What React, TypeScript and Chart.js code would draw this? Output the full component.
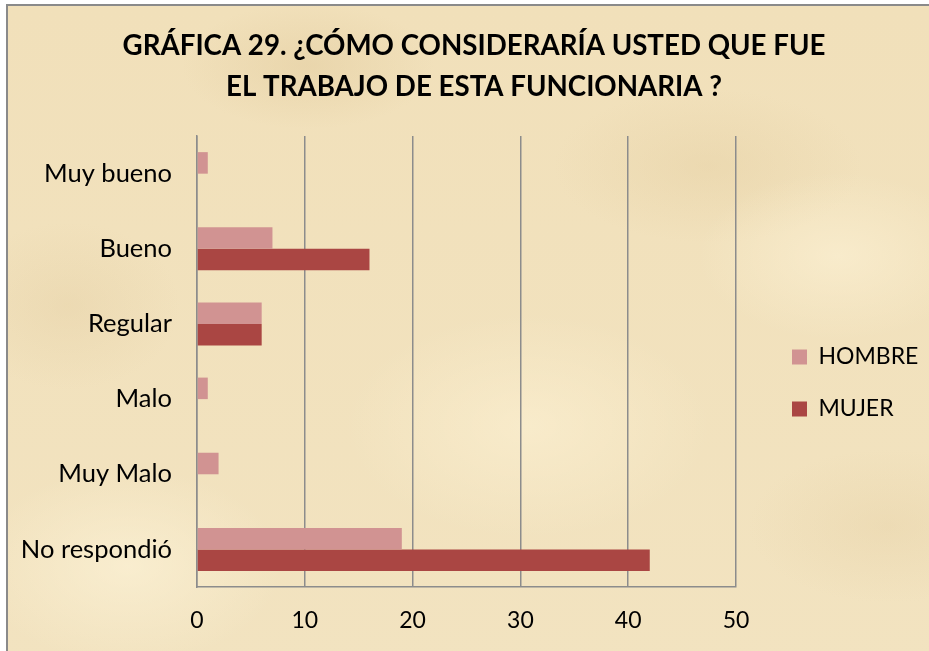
import React, { useEffect, useRef } from "react";
import { Chart, registerables } from "chart.js";

Chart.register(...registerables);

const categories = ["Muy bueno", "Bueno", "Regular", "Malo", "Muy Malo", "No respondió"];
const hombreValues = [1, 7, 6, 1, 2, 19];
const mujerValues = [0, 16, 6, 0, 0, 42];
const seriesNames = ["HOMBRE", "MUJER"];
const titleLines = ["GRÁFICA 29. ¿CÓMO CONSIDERARÍA USTED QUE FUE", "EL TRABAJO DE ESTA FUNCIONARIA ?"];
const xTicks = [0, 10, 20, 30, 40, 50];

const FONT = "Lato, 'Noto Sans', sans-serif";
const CANVAS_W = 929;
const LEGEND_LEFT = 763;

export default function App() {
  const ref = useRef<HTMLCanvasElement | null>(null);

  useEffect(() => {
    document.body.style.margin = "0";
    const canvas = ref.current;
    if (!canvas) return;
    const chart = new Chart(canvas, {
      type: "bar",
      data: {
        labels: categories,
        datasets: [
          {
            label: seriesNames[0],
            data: hombreValues,
            backgroundColor: "#D19392",
            borderWidth: 0,
            categoryPercentage: 0.573,
            barPercentage: 1,
          },
          {
            label: seriesNames[1],
            data: mujerValues,
            backgroundColor: "#AA4643",
            borderWidth: 0,
            categoryPercentage: 0.573,
            barPercentage: 1,
          },
        ],
      },
      options: {
        indexAxis: "y",
        animation: false,
        responsive: false,
        maintainAspectRatio: false,
        layout: { padding: { left: 19, right: 0, top: 0, bottom: 0 } },
        plugins: {
          title: {
            display: true,
            text: titleLines,
            color: "#000000",
            font: { family: FONT, size: 27.7, weight: "bold", lineHeight: 1.5 },
            padding: { top: 25, bottom: 28 },
          },
          legend: {
            display: true,
            position: "right",
            fullSize: false,
            maxWidth: 300,
            title: {
              display: true,
              text: " ",
              color: "rgba(0,0,0,0)",
              font: { size: 12, lineHeight: 1 },
              padding: { top: 31, bottom: 0 },
            },
            labels: {
              boxWidth: 15,
              boxHeight: 15,
              padding: 29,
              color: "#000000",
              font: { family: FONT, size: 23 },
            },
          },
          tooltip: { enabled: false },
        },
        scales: {
          x: {
            type: "linear",
            position: "bottom",
            min: 0,
            max: 50,
            afterBuildTicks: (scale: any) => {
              scale.ticks = xTicks.map((v) => ({ value: v }));
            },
            afterFit: (scale: any) => {
              scale.height = 64;
            },
            ticks: {
              color: "#000000",
              padding: 20,
              font: { family: FONT, size: 23 },
            },
            grid: {
              display: true,
              color: "#8C8C8C",
              lineWidth: 1.5,
              drawTicks: false,
            },
            border: { display: true, color: "#8C8C8C", width: 1.5 },
          },
          y: {
            type: "category",
            position: "left",
            afterFit: (scale: any) => {
              scale.width = 178;
            },
            ticks: {
              color: "#000000",
              padding: 25,
              font: { family: FONT, size: 25.5 },
            },
            grid: { display: false, drawTicks: false },
            border: { display: true, color: "#8C8C8C", width: 1.5 },
          },
          gapR: {
            type: "linear",
            position: "right",
            weight: 0,
            display: true,
            afterFit: (scale: any) => {
              scale.width = 27;
            },
            ticks: { display: false },
            grid: { display: false, drawTicks: false },
            border: { display: false },
          },
          padR: {
            type: "linear",
            position: "right",
            weight: 2000,
            display: true,
            afterFit: (scale: any) => {
              const lw = scale.chart.legend ? scale.chart.legend.width : 0;
              scale.width = Math.max(0, CANVAS_W - LEGEND_LEFT - lw);
            },
            ticks: { display: false },
            grid: { display: false, drawTicks: false },
            border: { display: false },
          },
        },
      },
    } as any);
    return () => chart.destroy();
  }, []);

  const parchment = [
    "radial-gradient(ellipse 220px 140px at 120px 560px, rgba(255,246,220,0.55), rgba(255,246,220,0) 70%)",
    "radial-gradient(ellipse 260px 160px at 520px 420px, rgba(255,244,215,0.5), rgba(255,244,215,0) 70%)",
    "radial-gradient(ellipse 200px 120px at 830px 250px, rgba(255,245,218,0.5), rgba(255,245,218,0) 70%)",
    "radial-gradient(ellipse 180px 90px at 300px 60px, rgba(222,198,150,0.4), rgba(222,198,150,0) 70%)",
    "radial-gradient(ellipse 220px 110px at 700px 160px, rgba(225,202,155,0.35), rgba(225,202,155,0) 70%)",
    "radial-gradient(ellipse 160px 120px at 60px 300px, rgba(226,204,160,0.35), rgba(226,204,160,0) 70%)",
    "radial-gradient(ellipse 200px 110px at 880px 520px, rgba(228,206,162,0.35), rgba(228,206,162,0) 70%)",
    "linear-gradient(#F1E0BA, #F2E3C0)",
  ].join(", ");

  return (
    <div style={{ position: "absolute", left: 0, top: 0, width: 929, height: 651, background: "#ffffff", overflow: "hidden" }}>
      <div
        style={{
          position: "absolute",
          left: 6,
          top: 4,
          width: 940,
          height: 670,
          borderLeft: "2px solid #8A8A8A",
          borderTop: "2px solid #8A8A8A",
          background: parchment,
        }}
      />
      <canvas ref={ref} width={929} height={651} style={{ position: "absolute", left: 0, top: 0, width: 929, height: 651 }} />
    </div>
  );
}
